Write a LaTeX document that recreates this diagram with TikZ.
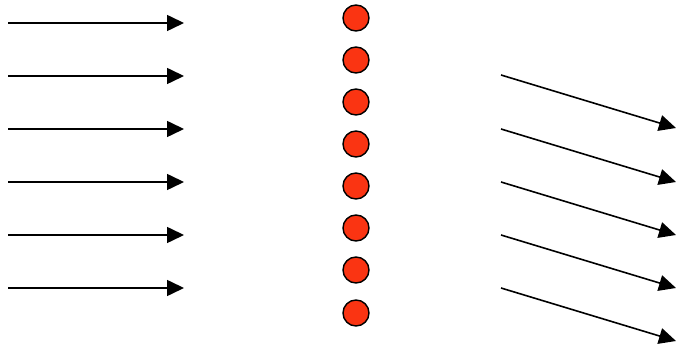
\documentclass[tikz,border=0pt]{standalone}
\usetikzlibrary{arrows.meta}
\definecolor{atomred}{RGB}{250,52,18}

\begin{document}
\begin{tikzpicture}[
    x=1pt, y=-1pt,
    ray/.style={line width=1.6pt, -{Triangle[length=17pt, width=16pt]}},
    atom/.style={circle, draw=black, line width=1.4pt, fill=atomred, minimum size=26pt, inner sep=0pt}
]
\useasboundingbox (0,0) rectangle (678,347);
\foreach \i/\y in {1/23,2/76,3/129,4/182,5/235,6/288} {
  \coordinate (in\i) at (8, \y);
  \coordinate (inend\i) at (184, \y);
  \draw[ray] (in\i) -- (inend\i);
}
\foreach \i/\y in {1/18,2/60,3/102,4/144,5/186,6/228,7/270,8/313}
  \node[atom] (atom\i) at (356, \y) {};
\foreach \i/\y in {1/75,2/129,3/182,4/235,5/288} {
  \coordinate (out\i) at (501, \y);
  \coordinate (outend\i) at (676, \y+53);
  \draw[ray] (out\i) -- (outend\i);
}
\end{tikzpicture}
\end{document}
